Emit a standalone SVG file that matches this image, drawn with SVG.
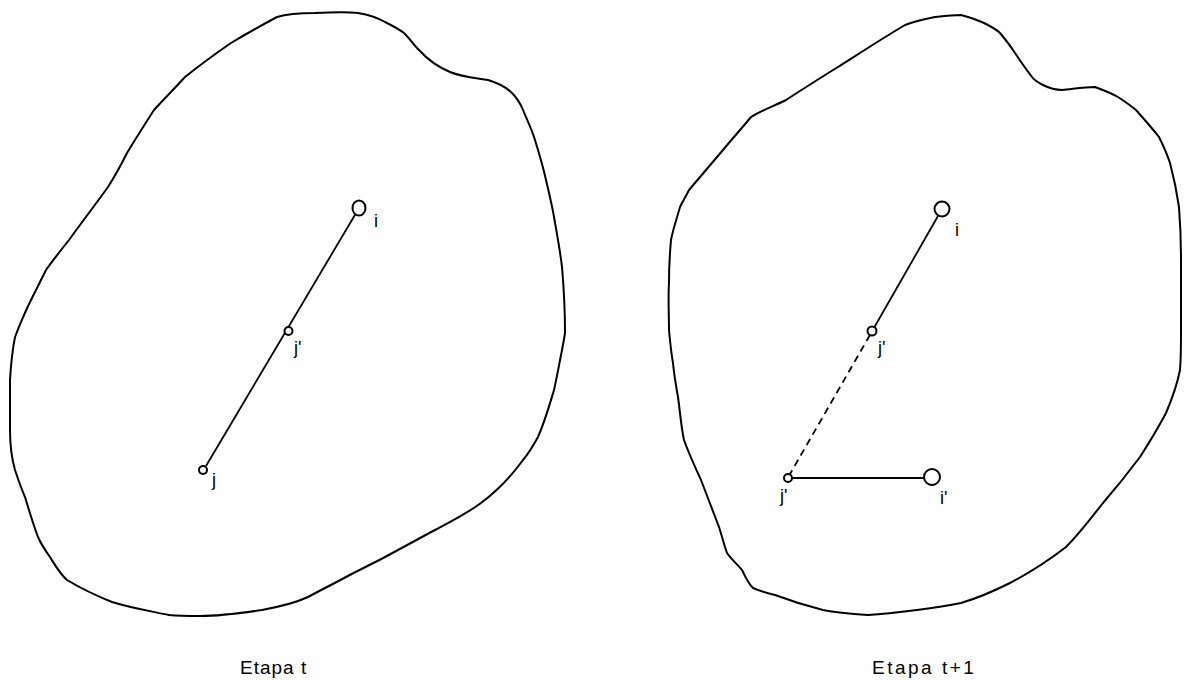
<svg xmlns="http://www.w3.org/2000/svg" width="1184" height="680" viewBox="0 0 1184 680">
<style>
.blob{fill:none;stroke:#000;stroke-width:2;stroke-linejoin:round}
.edge{fill:none;stroke:#000;stroke-width:1.8}
.dash{stroke-dasharray:7 5}
.node{fill:#fff;stroke:#000;stroke-width:2}
.lbl{font-family:"Liberation Sans",Arial,sans-serif;font-size:18px;fill:#000}
.cap{font-family:"Liberation Sans",Arial,sans-serif;font-size:19px;fill:#000;letter-spacing:1px}
</style>
<rect width="1184" height="680" fill="#fff"/>
<g id="region-t">
<path class="blob" d="M277,17 C290,13 305,13 315,13 C335,12 350,12 358,13 C370,15 378,18 385,22 C393,26 399,29 404,33 C410,39 414,45 419,50 C428,60 438,67 450,72 C462,77 476,78 488,80 C498,83 506,87 512,93 C518,99 521,105 523,110 C528,122 532,130 535,140 C539,153 543,166 546,180 C549,193 552,205 554,217 C557,234 560,250 562,267 C564,290 565,310 565,333 C564,340 563,345 562,350 C559,365 557,377 554,390 C549,407 545,421 538,437 C533,446 529,453 523,460 C510,478 497,491 481,503 C466,514 452,521 435,530 C418,539 402,548 385,557 C372,564 359,570 346,577 C333,584 321,590 308,597 C293,604 278,607 262,610 C242,613 221,616 200,616 C189,616 180,616 169,615 C150,611 131,608 112,602 C97,596 82,589 67,580 C60,574 55,565 50,557 C45,550 41,544 38,537 C33,524 29,510 25,497 C21,488 18,479 15,470 C11,456 10,443 10,430 C10,413 10,397 10,380 C11,363 13,347 15,337 C20,324 25,312 31,300 C36,290 41,280 46,270 C53,260 61,250 69,240 C82,222 95,205 108,187 C115,176 121,165 127,153 C136,138 145,124 154,110 C164,99 175,88 185,77 C200,65 215,54 231,43 C246,34 262,25 277,17 Z"/>
</g>
<g id="region-t1">
<path class="blob" d="M905,25 C915,21 925,19 935,17 C944,16 952,15 961,15 C969,17 977,20 984,23 C990,26 996,29 1000,33 C1005,39 1009,44 1013,50 C1019,59 1025,68 1032,77 C1035,81 1039,83 1043,85 C1049,88 1055,90 1062,90 C1073,89 1084,87 1095,87 C1103,90 1111,93 1118,97 C1124,101 1130,105 1136,110 C1144,119 1152,128 1159,137 C1163,145 1167,154 1170,163 C1174,178 1177,193 1179,207 C1180,220 1181,240 1181,260 C1181,280 1181,310 1181,335 C1181,345 1181,357 1180,370 C1177,385 1172,399 1166,413 C1158,428 1149,443 1140,457 C1128,473 1116,488 1103,503 C1091,518 1080,533 1066,547 C1048,561 1029,573 1010,583 C994,591 978,598 961,603 C946,606 932,608 917,610 C901,612 884,614 868,615 C853,614 838,613 823,610 C807,606 791,601 775,595 C767,593 760,591 753,588 C748,583 745,576 742,570 C737,564 731,559 727,553 C724,545 722,536 719,527 C713,511 707,496 701,480 C695,467 689,454 684,440 C681,426 680,411 678,397 C676,386 674,374 673,363 C671,352 670,341 669,330 C669,315 668,298 669,283 C669,272 670,251 671,240 C673,229 677,218 680,207 C683,201 686,196 689,190 C700,177 712,163 723,150 C732,139 742,128 751,117 C762,110 774,106 786,100 C803,89 820,78 838,67 C860,53 883,38 905,25 Z"/>
</g>
<g id="connectors">
<line class="edge" x1="355.5" y1="214" x2="206" y2="466"/>
<line class="edge" x1="938" y1="216" x2="874.5" y2="327"/>
<line class="edge dash" x1="870" y1="335" x2="790" y2="474"/>
<line class="edge" x1="792" y1="478" x2="924" y2="478"/>
</g>
<g id="node-i-t">
<ellipse class="node" cx="359" cy="208" rx="6.5" ry="7.5"/>
<text class="lbl" x="374" y="227">i</text>
</g>
<g id="node-jp-t">
<circle class="node" cx="288.5" cy="331" r="4"/>
<text class="lbl" x="294" y="354">j'</text>
</g>
<g id="node-j-t">
<circle class="node" cx="203" cy="470" r="4"/>
<text class="lbl" x="212" y="486">j</text>
</g>
<g id="node-i-t1">
<circle class="node" cx="942" cy="209" r="7.5"/>
<text class="lbl" x="955" y="236">i</text>
</g>
<g id="node-jp-t1">
<circle class="node" cx="872" cy="331" r="4.5"/>
<text class="lbl" x="878" y="354">j'</text>
</g>
<g id="node-jpp-t1">
<circle class="node" cx="788" cy="478" r="4"/>
<text class="lbl" x="780" y="502">j'</text>
</g>
<g id="node-ip-t1">
<circle class="node" cx="932" cy="477" r="8"/>
<text class="lbl" x="940" y="504">i'</text>
</g>
<g id="captions">
<text class="cap" x="240" y="674">Etapa t</text>
<text class="cap" x="872" y="674" style="letter-spacing:2.5px">Etapa t+1</text>
</g>
</svg>
